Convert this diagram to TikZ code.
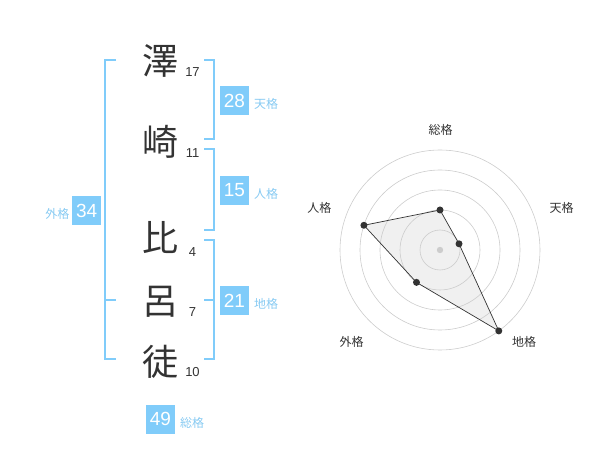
\documentclass[tikz,border=0pt]{standalone}
\usepackage{fontspec}
\setmainfont{Liberation Sans}
\newfontfamily\cjk{Noto Sans CJK JP}
\usetikzlibrary{positioning}

\definecolor{kakublue}{RGB}{128,204,250}
\definecolor{kakutext}{RGB}{135,202,242}
\definecolor{inkgray}{RGB}{51,51,51}

\tikzset{
  kanji/.style={font=\cjk\fontsize{36}{36}\selectfont, text=inkgray, inner sep=0pt},
  strokes/.style={font=\fontsize{13}{13}\selectfont, text=inkgray, inner sep=0pt},
  kakubox/.style={fill=kakublue, text=white, minimum size=29pt, inner sep=0pt,
    font=\fontsize{19}{19}\selectfont},
  kakulabel/.style={font=\cjk\fontsize{12}{12}\selectfont, text=kakutext, inner sep=0pt},
  bracket/.style={draw=kakublue, line width=1.6pt},
  ring/.style={draw=black!20, line width=0.6pt},
  axislabel/.style={font=\cjk\fontsize{12}{12}\selectfont, text=inkgray, inner sep=0pt},
  dot/.style={circle, fill=inkgray, minimum size=7pt, inner sep=0pt},
}

\begin{document}
\begin{tikzpicture}[x=1pt, y=-1pt]
    \useasboundingbox (0,0) rectangle (600,470);

    % Name characters and stroke counts
    \node[kanji] (c1) at (160,61) {澤};
    \node[kanji] (c2) at (160,141.5) {崎};
    \node[kanji] (c3) at (160,238) {比};
    \node[kanji] (c4) at (160,301.5) {呂};
    \node[kanji] (c5) at (160,361.5) {徒};
    \node[strokes] (n1) at (192.5,72.5) {17};
    \node[strokes] (n2) at (192.5,153) {11};
    \node[strokes] (n3) at (192.5,252.5) {4};
    \node[strokes] (n4) at (192.5,312.5) {7};
    \node[strokes] (n5) at (192.5,372.5) {10};

    % Brackets
    \draw[bracket] (204,60) -| (214,139.3) -- (204,139.3);
    \draw[bracket] (204,149.3) -| (214,230) -- (204,230);
    \draw[bracket] (204,240) -| (214,359.3) -- (204,359.3);
    \draw[bracket] (204,300) -- (214,300);
    \draw[bracket] (116,60) -| (105,359.3) -- (116,359.3);
    \draw[bracket] (105,300) -- (116,300);

    % Fortune values
    \node[kakubox] (ten) at (234.5,100.5) {28};
    \node[kakulabel, anchor=west] (tenl) at (254,103.5) {天格};
    \node[kakubox] (jin) at (234.5,190.5) {15};
    \node[kakulabel, anchor=west] (jinl) at (254,193.5) {人格};
    \node[kakubox] (chi) at (234.5,300.5) {21};
    \node[kakulabel, anchor=west] (chil) at (254,303.5) {地格};
    \node[kakubox] (gai) at (86.7,210.5) {34};
    \node[kakulabel, anchor=east] (gail) at (69.5,213.5) {外格};
    \node[kakubox] (sou) at (160.5,419) {49};
    \node[kakulabel, anchor=west] (soul) at (180,422.5) {総格};

    % Radar chart
    \begin{scope}[shift={(440,250)}, y=1pt]
        \coordinate (psou) at (90:40);
        \coordinate (pten) at (18:20);
        \coordinate (pchi) at (-54:100);
        \coordinate (pgai) at (-126:40);
        \coordinate (pjin) at (162:80);
        \fill[black!6] (psou) -- (pten) -- (pchi) -- (pgai) -- (pjin) -- cycle;
        \foreach \r in {20,40,...,100}
            \draw[ring] (0,0) circle (\r);
        \fill[black!20] (0,0) circle (3.2);
        \draw[inkgray, line width=0.7pt] (psou) -- (pten) -- (pchi) -- (pgai) -- (pjin) -- cycle;
        \foreach \p in {psou,pten,pchi,pgai,pjin}
            \node[dot] (d\p) at (\p) {};
        \node[axislabel] (asou) at (0.7,120) {総格};
        \node[axislabel] (aten) at (121.7,41.7) {天格};
        \node[axislabel] (achi) at (84,-91.7) {地格};
        \node[axislabel] (agai) at (-88.3,-91.7) {外格};
        \node[axislabel] (ajin) at (-120.7,41.7) {人格};
    \end{scope}
\end{tikzpicture}
\end{document}
